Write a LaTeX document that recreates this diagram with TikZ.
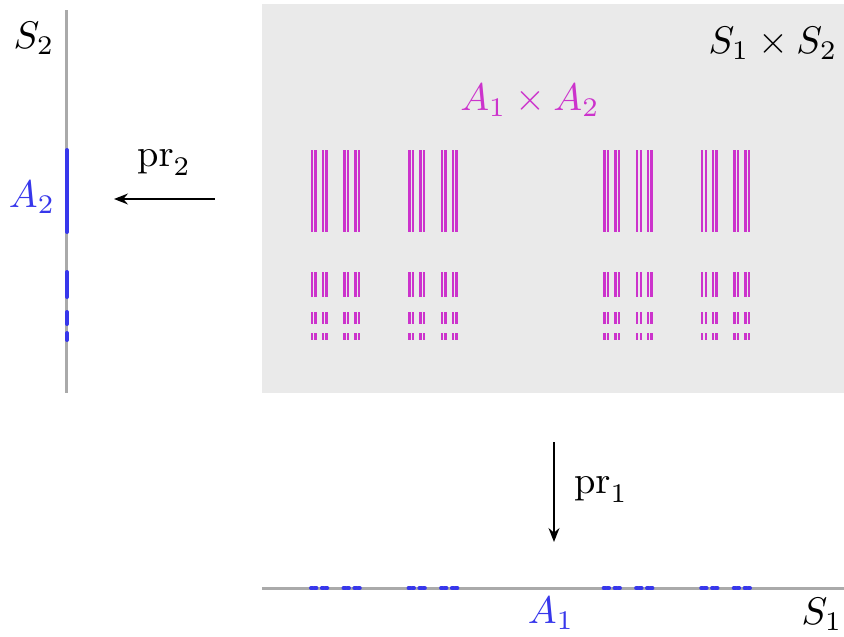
\documentclass[tikz,border=0pt]{standalone}
\usetikzlibrary{arrows.meta}
\definecolor{axisgray}{RGB}{170,170,170}
\definecolor{boxgray}{RGB}{234,234,234}
\definecolor{setblue}{RGB}{55,55,235}
\definecolor{setmag}{RGB}{204,51,204}
\begin{document}
\begin{tikzpicture}[x=0.26pt,y=-0.26pt,
  axis/.style={draw=axisgray,line width=0.78pt},
  bluemark/.style={draw=setblue,line width=1.04pt,line cap=round},
  proj/.style={-{Stealth[length=3.6pt,width=2.8pt]},line width=0.68pt},
  lbl/.style={inner sep=0pt}]
\useasboundingbox (0,0) rectangle (844,637);
% product space
\fill[boxgray] (262,4) rectangle (844,393);
% axes
\coordinate (s2top) at (67,10);
\coordinate (s2bot) at (67,393);
\coordinate (s1left) at (262,588);
\coordinate (s1right) at (844,588);
\draw[axis] (s2top) -- (s2bot);
\draw[axis] (s1left) -- (s1right);
% A2 on S2
\foreach \ya/\yb in {150/232,272/297,312/324,333/340}{
  \draw[bluemark] (67,\ya) -- (67,\yb);
}
% A1 on S1 and A1 x A2
\foreach \a in {0,292.667}{
 \foreach \b in {0,97.556}{
  \foreach \c in {0,32.519}{
   \foreach \d in {0,10.840}{
    \foreach \e in {0,3.613}{
     \pgfmathsetmacro\xx{311+\a+\b+\c+\d+\e}
     \draw[bluemark] (\xx,588) -- ++(1.807,0);
     \foreach \ya/\yb in {150/232,272/297,312/324,333/340}{
       \fill[setmag] (\xx-0.25,\ya) rectangle (\xx+2.15,\yb);
     }
    }
   }
  }
 }
}
% labels
\node[lbl] (S2) at (34,38) {$S_2$};
\node[lbl,text=setblue] (A2) at (32,197) {$A_2$};
\node[lbl] (S1S2) at (773,43) {$S_1\times S_2$};
\node[lbl,text=setmag] (A1A2) at (530,100) {$A_1\times A_2$};
\node[lbl] (pr2) at (164,163) {$\mathrm{pr}_2$};
\node[lbl] (pr1) at (601,490) {$\mathrm{pr}_1$};
\node[lbl,text=setblue] (A1) at (551,613) {$A_1$};
\node[lbl] (S1) at (822,614) {$S_1$};
% projections
\coordinate (p2s) at (215,199);
\coordinate (p2e) at (114,199);
\coordinate (p1s) at (554,442);
\coordinate (p1e) at (554,542);
\draw[proj] (p2s) -- (p2e);
\draw[proj] (p1s) -- (p1e);
\end{tikzpicture}
\end{document}
